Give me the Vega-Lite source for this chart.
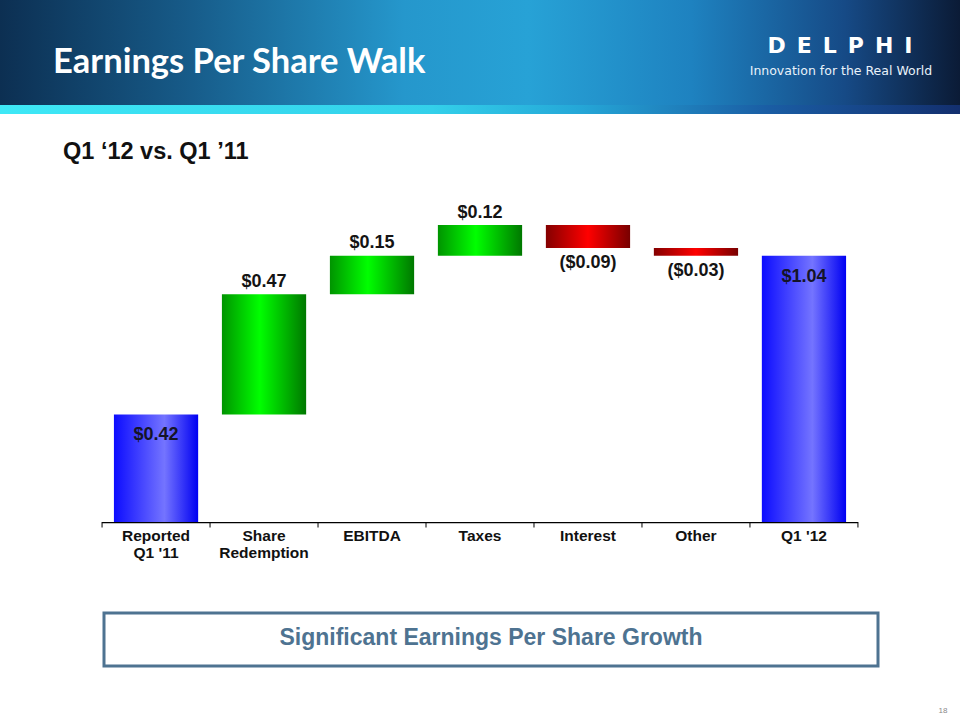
{
  "$schema": "https://vega.github.io/schema/vega-lite/v6.json",
  "autosize": {"type": "none"},
  "width": 960,
  "height": 522,
  "padding": {"left": 0, "right": 0, "top": 0, "bottom": 198},
  "background": "white",
  "config": {"view": {"stroke": null}},
  "data": {
    "values": [
      {"cat": "Reported Q1 '11", "lab": "Reported\nQ1 '11", "start": 0, "end": 0.42, "label": "$0.42", "kind": "total"},
      {"cat": "Share Redemption", "lab": "Share\nRedemption", "start": 0.42, "end": 0.89, "label": "$0.47", "kind": "up"},
      {"cat": "EBITDA", "lab": "EBITDA", "start": 0.89, "end": 1.04, "label": "$0.15", "kind": "up"},
      {"cat": "Taxes", "lab": "Taxes", "start": 1.04, "end": 1.16, "label": "$0.12", "kind": "up"},
      {"cat": "Interest", "lab": "Interest", "start": 1.16, "end": 1.07, "label": "($0.09)", "kind": "down"},
      {"cat": "Other", "lab": "Other", "start": 1.07, "end": 1.04, "label": "($0.03)", "kind": "down"},
      {"cat": "Q1 '12", "lab": "Q1 '12", "start": 0, "end": 1.04, "label": "$1.04", "kind": "total"}
    ]
  },
  "layer": [
    {
      "data": {"values": [{"part": "banner"}]},
      "mark": {"type": "rect", "fill": {"gradient": "linear", "x1": 0, "y1": 0, "x2": 1, "y2": 0, "stops": [
        {"offset": 0, "color": "#0c2f52"}, {"offset": 0.2, "color": "#175c8a"}, {"offset": 0.42, "color": "#2597cc"},
        {"offset": 0.55, "color": "#27a2d6"}, {"offset": 0.72, "color": "#1e82c0"}, {"offset": 0.88, "color": "#164a86"}, {"offset": 1, "color": "#0b1b36"}]}},
      "encoding": {
        "y": {"datum": 2.039, "type": "quantitative", "scale": {"domain": [0, 2.039], "nice": false, "zero": false}, "axis": null},
        "y2": {"datum": 1.629}
      }
    },
    {
      "data": {"values": [{"part": "strip"}]},
      "mark": {"type": "rect", "fill": {"gradient": "linear", "x1": 0, "y1": 0, "x2": 1, "y2": 0, "stops": [
        {"offset": 0, "color": "#3ee8f6"}, {"offset": 0.45, "color": "#33d0ea"}, {"offset": 0.6, "color": "#25a8d8"},
        {"offset": 0.8, "color": "#1a5da4"}, {"offset": 1, "color": "#132f6e"}]}},
      "encoding": {
        "y": {"datum": 1.629, "type": "quantitative", "axis": null},
        "y2": {"datum": 1.594}
      }
    },
    {
      "data": {"values": [{"t": "Earnings Per Share Walk"}]},
      "mark": {"type": "text", "font": "Lato", "fontWeight": "bold", "fontSize": 34.5, "fill": "white", "align": "left", "baseline": "alphabetic", "dx": -103},
      "encoding": {
        "x": {"datum": "Reported Q1 '11", "type": "nominal", "axis": null},
        "y": {"datum": 1.754, "type": "quantitative", "axis": null},
        "text": {"field": "t"}
      }
    },
    {
      "data": {"values": [{"t": "D\u2002E\u2002L\u2002P\u2002H\u2002I"}]},
      "mark": {"type": "text", "font": "DejaVu Sans", "fontWeight": "bold", "fontSize": 22, "fill": "white", "align": "center", "baseline": "alphabetic", "dx": 36},
      "encoding": {
        "x": {"datum": "Q1 '12", "type": "nominal", "axis": null},
        "y": {"datum": 1.832, "type": "quantitative", "axis": null},
        "text": {"field": "t"}
      }
    },
    {
      "data": {"values": [{"t": "Innovation for the Real World"}]},
      "mark": {"type": "text", "font": "DejaVu Sans", "fontSize": 12.5, "fill": "#e8f2fa", "align": "center", "baseline": "alphabetic", "dx": 37},
      "encoding": {
        "x": {"datum": "Q1 '12", "type": "nominal", "axis": null},
        "y": {"datum": 1.746, "type": "quantitative", "axis": null},
        "text": {"field": "t"}
      }
    },
    {
      "data": {"values": [{"t": "Q1 \u201812 vs. Q1 \u201911"}]},
      "mark": {"type": "text", "font": "Liberation Sans", "fontWeight": "bold", "fontSize": 23.5, "fill": "#111111", "align": "left", "baseline": "alphabetic", "dx": -93},
      "encoding": {
        "x": {"datum": "Reported Q1 '11", "type": "nominal", "axis": null},
        "y": {"datum": 1.418, "type": "quantitative", "axis": null},
        "text": {"field": "t"}
      }
    },
    {
      "transform": [{"filter": "datum.kind == 'total'"}],
      "mark": {"type": "bar", "width": {"band": 0.78}, "fill": {"gradient": "linear", "x1": 0, "y1": 0, "x2": 1, "y2": 0, "stops": [
        {"offset": 0, "color": "#0c0cff"}, {"offset": 0.6, "color": "#7474ff"}, {"offset": 1, "color": "#0000f2"}]}},
      "encoding": {
        "x": {"field": "cat", "type": "nominal", "sort": null, "axis": null,
          "scale": {"domain": ["Reported Q1 '11", "Share Redemption", "EBITDA", "Taxes", "Interest", "Other", "Q1 '12"], "paddingInner": 0, "paddingOuter": 0.945}},
        "y": {"field": "start", "type": "quantitative", "axis": null},
        "y2": {"field": "end"}
      }
    },
    {
      "transform": [{"filter": "datum.kind == 'up'"}],
      "mark": {"type": "bar", "width": {"band": 0.78}, "fill": {"gradient": "linear", "x1": 0, "y1": 0, "x2": 1, "y2": 0, "stops": [
        {"offset": 0, "color": "#009400"}, {"offset": 0.45, "color": "#00ff00"}, {"offset": 1, "color": "#007800"}]}},
      "encoding": {
        "x": {"field": "cat", "type": "nominal", "axis": null},
        "y": {"field": "start", "type": "quantitative", "axis": null},
        "y2": {"field": "end"}
      }
    },
    {
      "transform": [{"filter": "datum.kind == 'down'"}],
      "mark": {"type": "bar", "width": {"band": 0.78}, "fill": {"gradient": "linear", "x1": 0, "y1": 0, "x2": 1, "y2": 0, "stops": [
        {"offset": 0, "color": "#840000"}, {"offset": 0.5, "color": "#ff0000"}, {"offset": 1, "color": "#780000"}]}},
      "encoding": {
        "x": {"field": "cat", "type": "nominal", "axis": null},
        "y": {"field": "start", "type": "quantitative", "axis": null},
        "y2": {"field": "end"}
      }
    },
    {
      "transform": [{"filter": "datum.kind == 'total'"}],
      "mark": {"type": "text", "font": "Liberation Sans", "fontWeight": "bold", "fontSize": 18, "fill": "#141428", "baseline": "middle", "dy": 21},
      "encoding": {
        "x": {"field": "cat", "type": "nominal", "axis": null},
        "y": {"field": "end", "type": "quantitative", "axis": null},
        "text": {"field": "label"}
      }
    },
    {
      "transform": [{"filter": "datum.kind == 'up'"}],
      "mark": {"type": "text", "font": "Liberation Sans", "fontWeight": "bold", "fontSize": 18, "fill": "#141414", "baseline": "middle", "dy": -12.5},
      "encoding": {
        "x": {"field": "cat", "type": "nominal", "axis": null},
        "y": {"field": "end", "type": "quantitative", "axis": null},
        "text": {"field": "label"}
      }
    },
    {
      "transform": [{"filter": "datum.kind == 'down'"}],
      "mark": {"type": "text", "font": "Liberation Sans", "fontWeight": "bold", "fontSize": 18, "fill": "#141414", "baseline": "middle", "dy": 15},
      "encoding": {
        "x": {"field": "cat", "type": "nominal", "axis": null},
        "y": {"field": "end", "type": "quantitative", "axis": null},
        "text": {"field": "label"}
      }
    },
    {
      "mark": {"type": "bar", "width": {"band": 1}, "fill": "#000000"},
      "encoding": {
        "x": {"field": "cat", "type": "nominal", "axis": null},
        "y": {"datum": 0, "type": "quantitative", "axis": null},
        "y2": {"datum": -0.0045}
      }
    },
    {
      "mark": {"type": "rule", "stroke": "#000000", "strokeWidth": 1},
      "encoding": {
        "x": {"field": "cat", "type": "nominal", "bandPosition": 0, "axis": null},
        "y": {"datum": 0, "type": "quantitative", "axis": null},
        "y2": {"datum": -0.0215}
      }
    },
    {
      "transform": [{"filter": "datum.cat == \"Q1 '12\""}],
      "mark": {"type": "rule", "stroke": "#000000", "strokeWidth": 1},
      "encoding": {
        "x": {"field": "cat", "type": "nominal", "bandPosition": 1, "axis": null},
        "y": {"datum": 0, "type": "quantitative", "axis": null},
        "y2": {"datum": -0.0215}
      }
    },
    {
      "mark": {"type": "text", "font": "Liberation Sans", "fontWeight": "bold", "fontSize": 15.5, "fill": "#111111", "baseline": "top", "align": "center", "lineBreak": "\n", "lineHeight": 17, "dy": 7},
      "encoding": {
        "x": {"field": "cat", "type": "nominal", "axis": null},
        "y": {"datum": 0, "type": "quantitative", "axis": null},
        "text": {"field": "lab"}
      }
    },
    {
      "data": {"values": [{"part": "box"}]},
      "mark": {"type": "rect", "fill": "white", "stroke": "#4e7391", "strokeWidth": 3},
      "encoding": {
        "x": {"value": 104},
        "x2": {"value": 878},
        "y": {"datum": -0.355, "type": "quantitative", "axis": null},
        "y2": {"datum": -0.5625}
      }
    },
    {
      "data": {"values": [{"t": "Significant Earnings Per Share Growth"}]},
      "mark": {"type": "text", "font": "Liberation Sans", "fontWeight": "bold", "fontSize": 23, "fill": "#4e7391", "align": "center", "baseline": "middle", "dx": 11},
      "encoding": {
        "x": {"datum": "Taxes", "type": "nominal", "axis": null},
        "y": {"datum": -0.455, "type": "quantitative", "axis": null},
        "text": {"field": "t"}
      }
    },
    {
      "data": {"values": [{"t": "18"}]},
      "mark": {"type": "text", "font": "Liberation Sans", "fontSize": 8, "fill": "#8a8a8a", "align": "center", "baseline": "middle", "dx": 139},
      "encoding": {
        "x": {"datum": "Q1 '12", "type": "nominal", "axis": null},
        "y": {"datum": -0.738, "type": "quantitative", "axis": null},
        "text": {"field": "t"}
      }
    }
  ]
}
